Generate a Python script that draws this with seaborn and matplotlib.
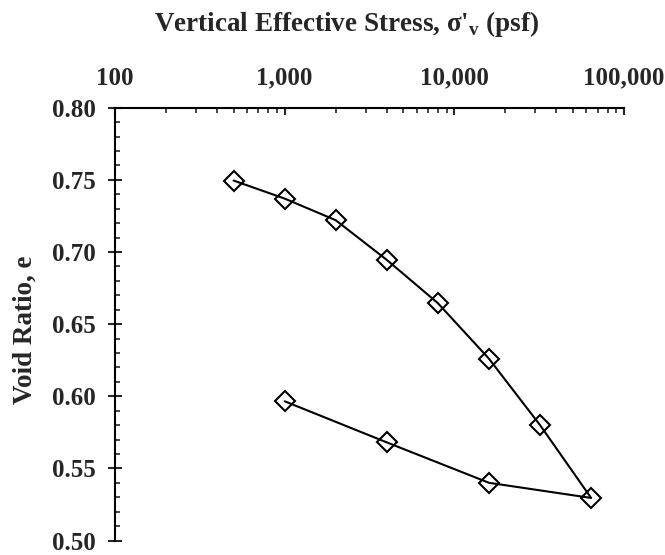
import matplotlib
matplotlib.use("Agg")
import matplotlib.pyplot as plt
import matplotlib.ticker as mticker
import seaborn as sns
import pandas as pd

# Data (loading then unloading path)
stress_psf = [500, 1000, 2000, 4000, 8000, 16000, 32000, 64000, 16000, 4000, 1000]
void_ratio = [0.7495, 0.737, 0.722, 0.6945, 0.6645, 0.626, 0.580, 0.5295, 0.540, 0.568, 0.5965]
x_ticks = [100, 1000, 10000, 100000]
x_tick_labels = ["100", "1,000", "10,000", "100,000"]
y_ticks = [0.50, 0.55, 0.60, 0.65, 0.70, 0.75, 0.80]

df = pd.DataFrame({"stress": stress_psf, "e": void_ratio})

sns.set_style("ticks")
plt.rcParams["font.family"] = ["Liberation Serif", "DejaVu Serif"]
plt.rcParams["font.weight"] = "bold"
plt.rcParams["mathtext.fontset"] = "custom"
plt.rcParams["mathtext.rm"] = "Liberation Serif"
plt.rcParams["mathtext.bf"] = "Liberation Serif:bold"

fig = plt.figure(figsize=(6.65, 5.55), dpi=100)
top_px, bottom_px, left_px, right_px = 107.7, 540.5, 115, 624
ax = fig.add_axes([left_px / 665, 1 - bottom_px / 555,
                   (right_px - left_px) / 665, (bottom_px - top_px) / 555])

sns.lineplot(data=df, x="stress", y="e", sort=False, estimator=None, ax=ax,
             color="black", linewidth=1.5, marker="D", markersize=10,
             markerfacecolor="none", markeredgecolor="black", markeredgewidth=1.5)

ax.set_xscale("log")
ax.set_xlim(100, 100000)
ax.set_ylim(0.50, 0.80)

ax.xaxis.tick_top()
ax.xaxis.set_label_position("top")
ax.set_xticks(x_ticks)
ax.set_xticklabels(x_tick_labels)
ax.xaxis.set_minor_locator(mticker.LogLocator(base=10, subs=range(2, 10), numticks=20))
ax.xaxis.set_minor_formatter(mticker.NullFormatter())

ax.set_yticks(y_ticks)
ax.yaxis.set_major_formatter(mticker.FormatStrFormatter("%.2f"))
ax.yaxis.set_minor_locator(mticker.MultipleLocator(0.01))

for s in ["right", "bottom"]:
    ax.spines[s].set_visible(False)
for s in ["left", "top"]:
    ax.spines[s].set_linewidth(1.5)
    ax.spines[s].set_color("black")

ax.tick_params(axis="x", which="major", direction="in", length=5, width=1.5,
               pad=13, labelsize=18, top=True, bottom=False, labeltop=True, labelbottom=False)
ax.tick_params(axis="x", which="minor", direction="in", length=3.5, width=1.2,
               top=True, bottom=False)
ax.tick_params(axis="y", which="major", direction="inout", length=9.5, width=1.5,
               pad=9, labelsize=18)
ax.tick_params(axis="y", which="minor", direction="in", length=3.5, width=1.2)

for lab in ax.get_xticklabels() + ax.get_yticklabels():
    lab.set_fontweight("bold")

ax.set_xlabel("")
ax.set_ylabel("")
fig.text(347 / 665, 1 - 24 / 555, r"Vertical Effective Stress, σ'$_\mathbf{v}$ (psf)",
         fontsize=19.5, fontweight="bold", ha="center", va="center")
fig.text(25 / 665, 1 - 330 / 555, "Void Ratio, e", fontsize=19.5, fontweight="bold",
         rotation=90, ha="center", va="center")

fig.savefig("out.png", dpi=100)
